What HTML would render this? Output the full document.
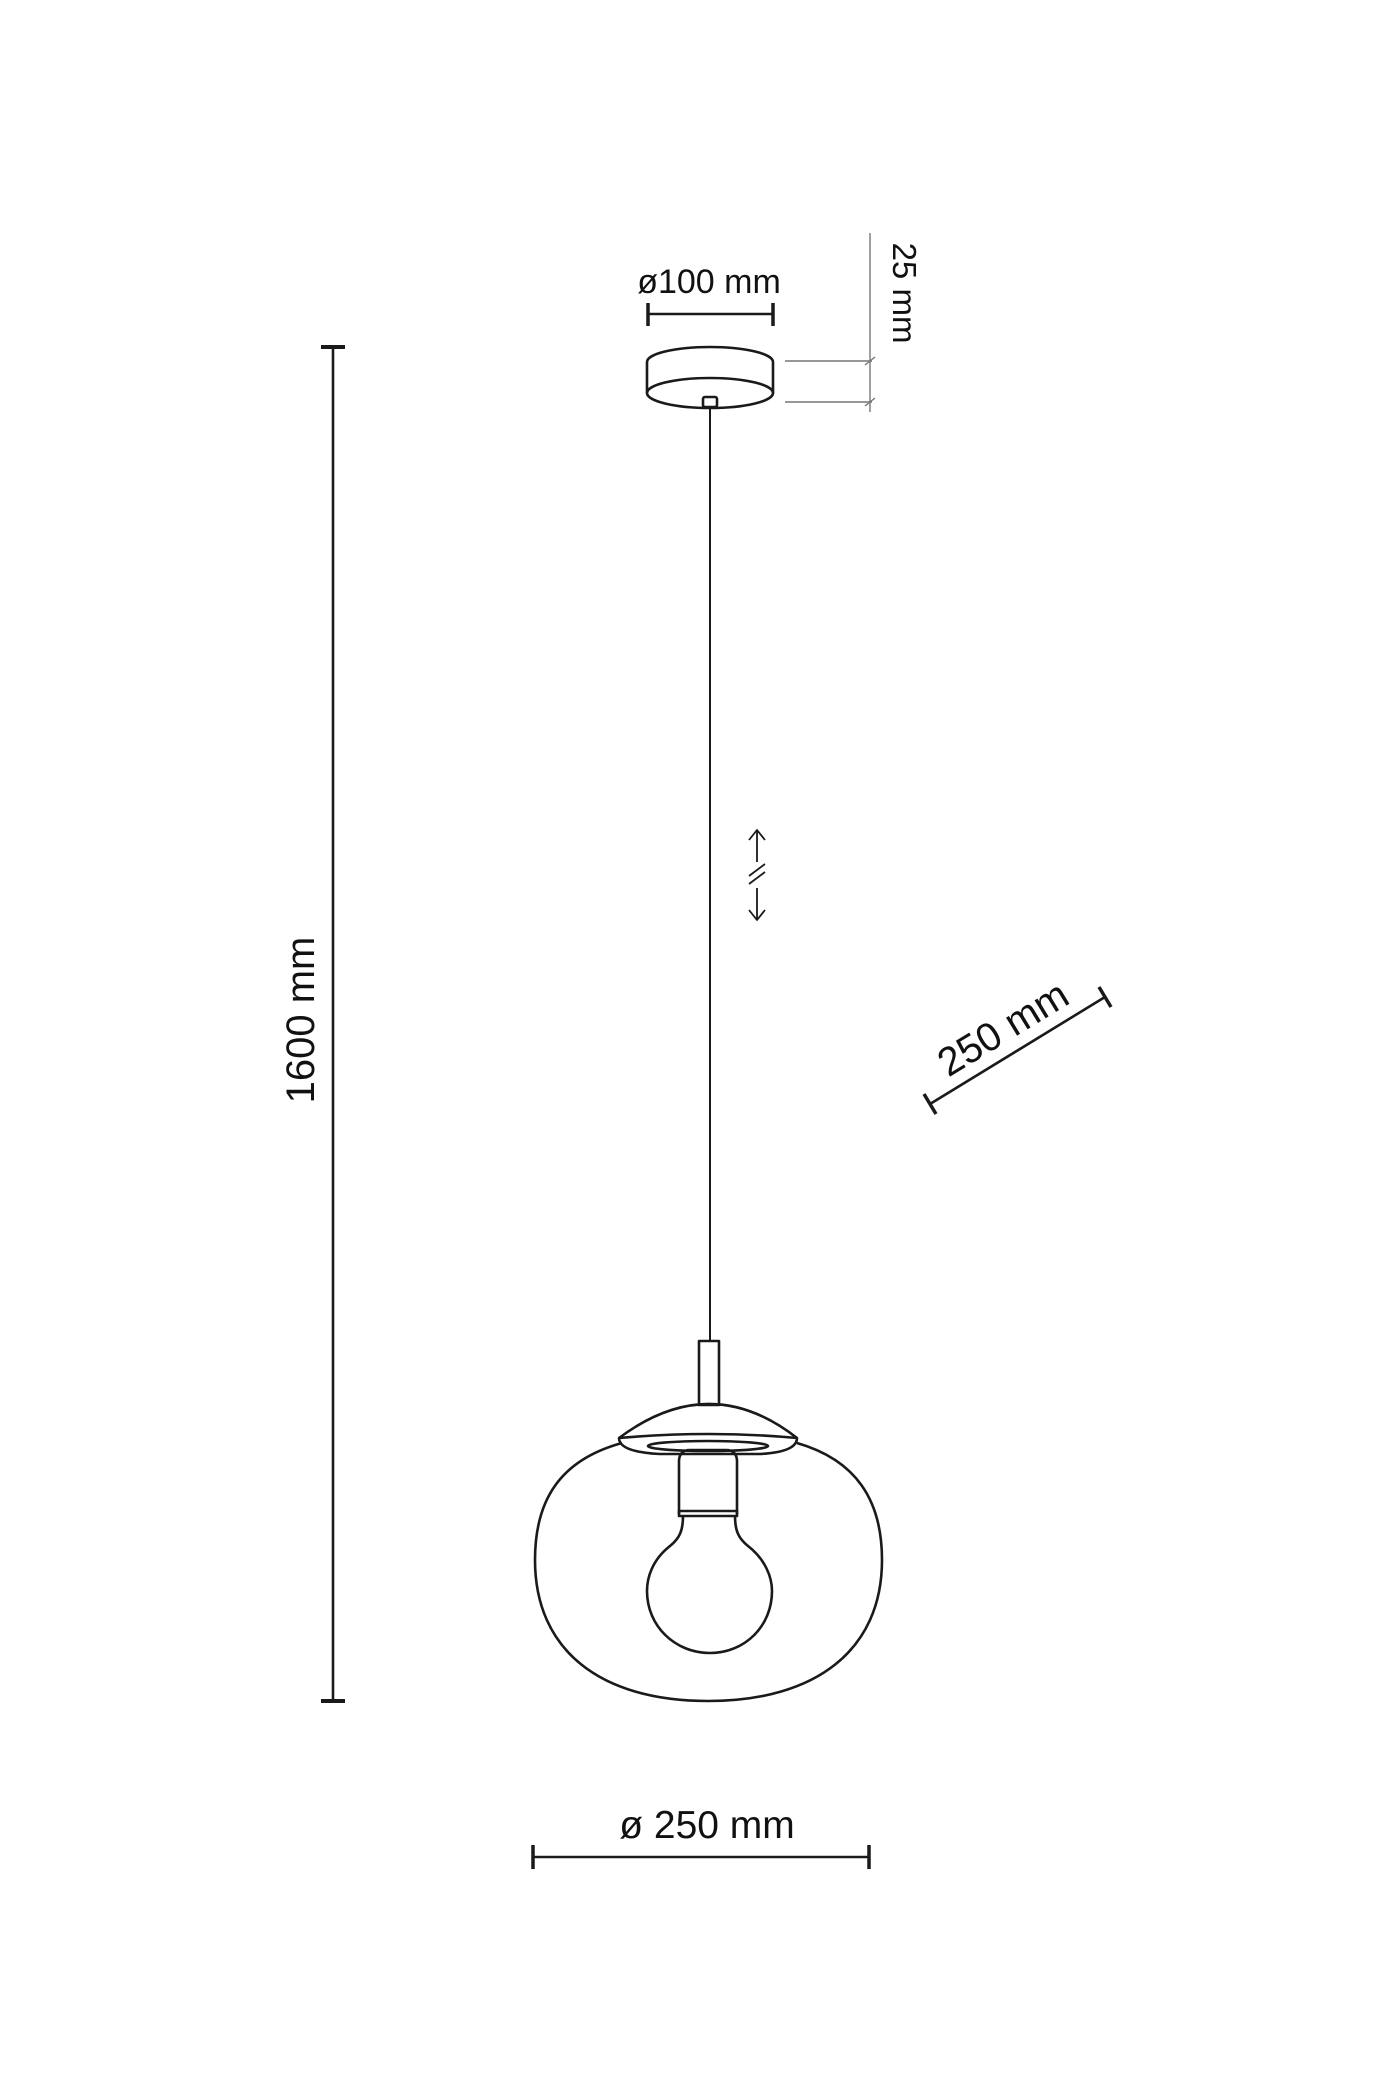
<!DOCTYPE html>
<html><head><meta charset="utf-8"><style>
html,body{margin:0;padding:0;background:#fff;}
svg{display:block;}
text{font-family:"Liberation Sans",sans-serif;fill:#111;}
</style></head><body>
<svg width="1400" height="2100" viewBox="0 0 1400 2100" xmlns="http://www.w3.org/2000/svg">
<g fill="none" stroke="#1a1a1a" stroke-width="2.6" stroke-linejoin="round" stroke-linecap="butt">
<!-- 1600 dim -->
<line x1="333" y1="347" x2="333" y2="1701"/>
<line x1="321" y1="347" x2="345" y2="347" stroke-width="4"/>
<line x1="321" y1="1701" x2="345" y2="1701" stroke-width="4"/>
<!-- 100 dim -->
<line x1="648" y1="314" x2="773" y2="314"/>
<line x1="648" y1="303" x2="648" y2="326" stroke-width="3.5"/>
<line x1="773" y1="303" x2="773" y2="326" stroke-width="3.5"/>
<!-- 25 dim -->
<g stroke="#777" stroke-width="1.4">
<line x1="870" y1="233" x2="870" y2="412"/>
<line x1="785" y1="361" x2="872" y2="361"/>
<line x1="785" y1="402" x2="872" y2="402"/>
<line x1="865" y1="365" x2="875" y2="357"/>
<line x1="865" y1="406" x2="875" y2="398"/>
</g>
<!-- canopy -->
<path d="M647 362 A63 15 0 0 1 773 362 L773 393 A63 15 0 0 1 647 393 Z"/>
<path d="M647 393 A63 15 0 0 1 773 393"/>
<rect x="703" y="397" width="14" height="10" rx="2"/>
<!-- cable -->
<line x1="710" y1="407" x2="710" y2="1341" stroke-width="2"/>
<!-- arrows -->
<g stroke-width="1.8">
<line x1="757" y1="830" x2="757" y2="862"/>
<polyline points="749,840 757,830 765,840"/>
<line x1="749" y1="876" x2="765" y2="864"/>
<line x1="749" y1="884" x2="765" y2="872"/>
<line x1="757" y1="888" x2="757" y2="920"/>
<polyline points="749,910 757,920 765,910"/>
</g>
<!-- stem -->
<rect x="699" y="1341" width="20" height="64"/>
<!-- dome -->
<path d="M619 1438 Q710 1370 797 1438"/>
<path d="M619 1438 Q710 1430 797 1438 Q797 1452 760 1454 L660 1454 Q619 1452 619 1438 Z"/>
<ellipse cx="708" cy="1446" rx="60" ry="5"/>
<!-- globe -->
<path d="M622 1443 C560 1460 535 1500 535 1560 C535 1650 600 1701 708 1701 C816 1701 882 1650 882 1560 C882 1500 856 1460 797 1443"/>
<!-- socket -->
<path d="M679 1514 L679 1460 Q680 1450 690 1450 L726 1450 Q736 1450 737 1460 L737 1514"/>
<rect x="679" y="1511" width="58" height="5"/>
<!-- bulb -->
<path d="M683 1516 C683 1530 680 1538 670 1546 C652 1560 647 1578 647 1591 C647 1626 675 1653 710 1653 C745 1653 772 1626 772 1591 C772 1578 766 1560 748 1546 C738 1538 735 1530 735 1516"/>
<!-- bottom dim -->
<line x1="533" y1="1857" x2="869" y2="1857"/>
<line x1="533" y1="1845" x2="533" y2="1869" stroke-width="3.5"/>
<line x1="869" y1="1845" x2="869" y2="1869" stroke-width="3.5"/>
<!-- diagonal dim -->
<line x1="930" y1="1104" x2="1105" y2="997"/>
<line x1="924" y1="1094" x2="936" y2="1114" stroke-width="3.5"/>
<line x1="1099" y1="987" x2="1111" y2="1007" stroke-width="3.5"/>
</g>
<text x="709" y="293" font-size="34" text-anchor="middle">ø100 mm</text>
<text transform="translate(893,293) rotate(90)" font-size="33" text-anchor="middle">25 mm</text>
<text transform="translate(314,1020) rotate(-90)" font-size="40" text-anchor="middle">1600 mm</text>
<text x="707" y="1838" font-size="39" text-anchor="middle">ø 250 mm</text>
<text transform="translate(1010,1040) rotate(-31.4)" font-size="40" text-anchor="middle">250 mm</text>
</svg>
</body></html>
